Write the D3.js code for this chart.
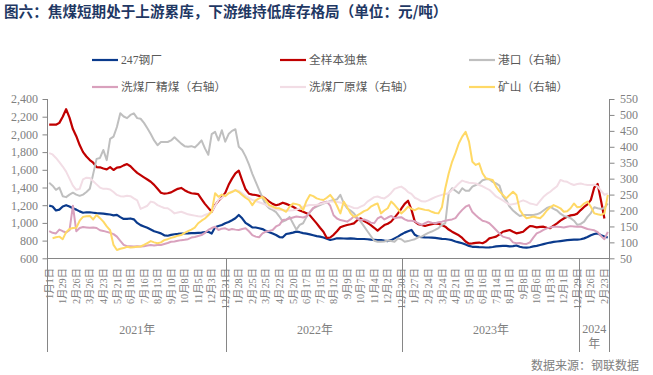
<!DOCTYPE html>
<html><head><meta charset="utf-8">
<script src="https://cdn.jsdelivr.net/npm/d3@7"></script>
<style>body{margin:0;background:#fff;} svg{display:block}</style>
</head><body>
<svg id="c" width="653" height="375"></svg>
<script>
// ---------- data ----------
const titleText = "图六：焦煤短期处于上游累库，下游维持低库存格局（单位：元/吨）";
const sourceText = "数据来源：钢联数据";
const startDate = "2021-01-01";
const nWeeks = 166;
const yearLabels = ["2021年", "2022年", "2023年", "2024年"];
const yearCounts = [53, 52, 52, 9];
const tickLabels = [
  "1月1日","1月29日","2月26日","3月26日","4月23日","5月21日","6月18日","7月16日","8月13日","9月10日","10月8日","11月5日","12月3日","12月31日",
  "1月28日","2月25日","3月25日","4月22日","5月20日","6月17日","7月15日","8月12日","9月9日","10月7日","11月4日","12月2日","12月30日",
  "1月27日","2月24日","3月24日","4月21日","5月19日","6月16日","7月14日","8月11日","9月8日","10月6日","11月3日","12月1日","12月29日",
  "1月26日","2月23日"
];
const leftTicks = [600, 800, 1000, 1200, 1400, 1600, 1800, 2000, 2200, 2400];
const rightTicks = [50, 100, 150, 200, 250, 300, 350, 400, 450, 500, 550];
const seriesNames = ["247钢厂", "全样本独焦", "港口（右轴）", "洗煤厂精煤（右轴）", "洗煤厂原煤（右轴）", "矿山（右轴）"];

const steel247 = [
1195,1185,1140,1150,1185,1200,1185,1165,1150,1130,
1115,1120,1120,1115,1110,1108,1105,1100,1095,1085,
1090,1065,1045,1045,1050,1040,1000,975,960,945,
925,905,895,882,860,855,865,872,875,880,
880,882,885,885,888,890,895,900,880,950,
965,976,995,1010,1030,1052,1090,1052,1000,976,
950,948,940,930,910,895,880,863,840,837,
875,882,890,901,895,885,878,870,860,850,
845,835,820,807,815,826,826,824,822,826,
822,818,818,818,815,810,808,805,807,800,
795,805,825,845,870,890,905,920,865,845,
838,836,835,833,830,825,820,818,812,805,
790,780,770,755,740,730,728,726,725,722,
724,728,735,738,740,740,735,738,745,730,
722,720,725,735,740,750,760,770,778,785,
790,795,800,805,808,810,812,815,825,840,
860,875,882,860,845,835];

const cokeAll = [
2110,2110,2110,2130,2200,2285,2190,2060,1980,1880,
1800,1750,1710,1680,1630,1628,1615,1605,1630,1598,
1625,1630,1650,1665,1640,1600,1565,1540,1515,1490,
1465,1430,1385,1340,1330,1335,1345,1365,1385,1395,
1370,1350,1335,1330,1325,1270,1215,1170,1125,1200,
1250,1290,1340,1430,1500,1560,1590,1480,1380,1330,
1320,1315,1305,1296,1270,1240,1215,1200,1210,1228,
1215,1200,1183,1160,1140,1127,1110,1085,1040,995,
945,901,830,835,865,905,950,965,976,985,
995,1030,1052,1020,1000,975,945,912,945,976,
990,1014,1060,1108,1160,1215,1250,1150,1014,985,
976,965,976,985,995,990,975,957,925,901,
880,860,830,790,765,768,775,778,770,790,
825,835,845,870,900,910,920,900,882,890,
900,935,965,960,950,955,957,945,940,970,
995,1025,1050,1070,1085,1090,1105,1145,1180,1210,
1260,1400,1440,1250,1050,null];

const port = [
287,278,265,272,245,242,250,256,250,246,
250,258,268,315,362,365,390,358,425,432,
462,505,495,490,500,505,490,488,475,458,
440,420,405,415,415,415,420,430,420,410,
402,400,402,398,408,420,395,375,440,447,
420,452,416,440,450,455,400,390,370,345,
315,290,265,240,218,207,202,195,181,165,
170,180,160,140,155,160,180,195,207,212,
217,222,225,230,233,235,249,223,207,200,
191,178,165,150,135,120,105,102,102,103,
106,104,102,112,110,102,104,107,110,116,
118,124,130,134,139,145,155,160,254,270,
262,254,270,262,262,275,280,285,295,298,
298,290,285,278,245,232,212,200,191,183,
186,186,186,186,188,192,200,208,212,205,
200,190,183,180,176,168,155,158,165,180,
192,210,207,205,208,222];

const washClean = [
135,130,128,140,135,131,138,215,135,145,
148,147,146,147,145,138,136,133,130,126,
118,105,92,88,88,87,88,87,88,90,
92,90,92,92,95,98,102,103,105,107,
108,110,115,117,120,123,130,139,145,149,
139,143,144,139,142,140,139,142,144,135,
123,118,116,128,134,136,139,150,155,170,
172,175,178,181,180,178,182,195,208,215,
222,225,228,215,185,175,170,168,165,172,
181,175,170,172,168,162,160,175,181,172,
178,183,176,178,179,172,168,168,166,160,
155,160,165,162,160,163,165,168,170,172,
176,190,202,212,217,195,185,176,168,165,
160,150,139,128,118,115,112,100,97,98,
96,95,100,115,128,133,139,144,147,149,
149,148,147,149,151,150,149,150,146,142,
140,138,132,120,110,133];

const washRaw = [
380,376,365,352,338,322,300,278,265,268,
298,303,302,292,282,272,268,268,266,258,
249,245,244,246,245,238,232,205,210,215,
228,225,217,212,208,207,200,191,194,196,
192,188,186,184,182,181,186,190,196,215,
233,240,248,254,260,264,262,254,246,240,
233,230,226,222,218,212,207,204,202,201,
200,200,201,203,206,212,215,217,217,218,
220,223,226,228,228,227,225,222,216,212,
208,207,212,217,228,235,242,244,240,238,
245,255,268,272,275,268,258,252,240,235,
229,228,232,237,242,246,249,252,254,265,
274,285,294,290,287,286,285,280,276,270,
265,255,244,238,232,225,218,220,222,228,
232,228,222,220,217,230,243,252,259,268,
276,296,292,290,284,280,283,285,282,280,
280,281,276,262,249,254];

const mine = [
null,113,116,118,110,132,142,145,146,168,
180,182,183,172,186,176,165,150,138,92,
76,80,82,86,84,85,86,87,92,98,
104,100,97,100,107,110,114,117,121,123,
130,135,140,146,160,168,175,185,196,254,
243,250,245,254,258,264,258,249,240,233,
217,232,238,243,232,217,212,208,207,202,
196,212,222,220,217,201,230,249,245,238,
235,233,240,249,235,215,191,228,210,191,
180,185,191,198,202,212,218,222,191,200,
207,228,218,205,191,200,212,205,201,207,
205,202,201,196,192,191,210,270,316,353,
380,411,432,447,416,353,343,348,317,301,
298,296,275,260,249,238,249,259,249,202,
186,176,178,181,178,176,186,200,210,217,
212,207,196,198,207,222,210,212,222,228,
212,191,188,186,191,249];

// ---------- styles ----------
const seriesColors = ["#0A3A8C", "#C00000", "#BFBFBF", "#D9A1BD", "#F2DDE5", "#FFD966"];
const seriesAxis = ["L", "L", "R", "R", "R", "R"];
const seriesData = [steel247, cokeAll, port, washClean, washRaw, mine];

const M = {left: 47.5, right: 609.5, top: 99, bottom: 258.3, ext: 352};
const axisColor = "#868686";
const textColor = "#808080";
const numFont = "'Liberation Serif','Noto Sans CJK SC',serif";
const cjkFont = "'Liberation Serif','Noto Sans CJK SC',serif";

const svg = d3.select("#c");

const parse = d3.timeParse("%Y-%m-%d");
const categories = d3.range(nWeeks).map(i => d3.timeDay.offset(parse(startDate), 7 * i));

const x = d3.scaleBand().domain(d3.range(nWeeks)).range([M.left, M.right]).padding(0);
const cx = i => x(i) + x.bandwidth() / 2;
const yL = d3.scaleLinear().domain([600, 2400]).range([M.bottom, M.top]);
const yR = d3.scaleLinear().domain([50, 550]).range([M.bottom, M.top]);

// title
svg.append("text").attr("x", 4).attr("y", 17)
  .attr("font-family", "'Noto Sans CJK SC',sans-serif").attr("font-weight", 700)
  .attr("font-size", 14.6).attr("fill", "#1F3864").text(titleText);

// left axis
const gL = svg.append("g").attr("transform", `translate(${M.left},0)`)
  .call(d3.axisLeft(yL).tickValues(leftTicks).tickSize(5).tickPadding(4.5).tickFormat(d3.format(",")));
gL.select(".domain").remove();
gL.selectAll(".tick line").attr("stroke", axisColor);
gL.selectAll(".tick text").attr("fill", textColor).attr("font-family", numFont).attr("font-size", 12);

// right axis
const gR = svg.append("g").attr("transform", `translate(${M.right},0)`)
  .call(d3.axisRight(yR).tickValues(rightTicks).tickSize(5).tickPadding(5.5));
gR.select(".domain").remove();
gR.selectAll(".tick line").attr("stroke", axisColor);
gR.selectAll(".tick text").attr("fill", textColor).attr("font-family", numFont).attr("font-size", 12);

// axis frame lines
const frame = svg.append("g").attr("stroke", axisColor).attr("stroke-width", 1).attr("shape-rendering", "crispEdges");
frame.append("line").attr("x1", M.left).attr("x2", M.left).attr("y1", M.top).attr("y2", M.ext);
frame.append("line").attr("x1", M.right).attr("x2", M.right).attr("y1", M.top).attr("y2", M.ext);
frame.append("line").attr("x1", M.left).attr("x2", M.right).attr("y1", M.bottom).attr("y2", M.bottom);

// year separators and year labels
let start = 0;
yearCounts.forEach((cnt, k) => {
  const x0 = x(start), x1 = (start + cnt < nWeeks) ? x(start + cnt) : M.right;
  if (start + cnt < nWeeks) {
    frame.append("line").attr("x1", x1).attr("x2", x1).attr("y1", M.bottom).attr("y2", M.ext);
  }
  const mid = (x0 + x1) / 2;
  const t = svg.append("text").attr("x", mid).attr("y", 334).attr("text-anchor", "middle")
    .attr("font-family", cjkFont).attr("font-size", 12).attr("fill", textColor).text(yearLabels[k]);
  if (t.node().getComputedTextLength() > (x1 - x0) - 2) {
    t.text(null);
    const lbl = yearLabels[k];
    t.append("tspan").attr("x", mid).attr("y", 333).text(lbl.slice(0, -1));
    t.append("tspan").attr("x", mid).attr("y", 348).text(lbl.slice(-1));
  }
  start += cnt;
});

// category labels (every 4th week)
tickLabels.forEach((lbl, k) => {
  const i = k * 4;
  svg.append("text")
    .attr("transform", `translate(${cx(i)},268) rotate(-90)`)
    .attr("text-anchor", "end").attr("dy", "0.35em")
    .attr("font-family", cjkFont).attr("font-size", 10.3).attr("fill", textColor)
    .text(lbl);
});

// series lines
seriesData.forEach((arr, s) => {
  const y = seriesAxis[s] === "L" ? yL : yR;
  const line = d3.line().defined(d => d != null).x((d, i) => cx(i)).y(d => y(d));
  svg.append("path").datum(arr).attr("d", line)
    .attr("fill", "none").attr("stroke", seriesColors[s])
    .attr("stroke-width", s < 2 ? 2.2 : 2).attr("stroke-linejoin", "round");
});

// legend
const legCols = [92, 280, 469], legRows = [60, 87];
seriesNames.forEach((name, s) => {
  const lx = legCols[s % 3], ly = legRows[Math.floor(s / 3)];
  svg.append("line").attr("x1", lx).attr("x2", lx + 26).attr("y1", ly).attr("y2", ly)
    .attr("stroke", seriesColors[s]).attr("stroke-width", 2.2);
  svg.append("text").attr("x", lx + 29).attr("y", ly).attr("dy", "0.36em")
    .attr("font-family", cjkFont).attr("font-size", 11.7).attr("fill", "#595959").text(name);
});

// source
svg.append("text").attr("x", 639).attr("y", 370).attr("text-anchor", "end")
  .attr("font-family", cjkFont).attr("font-size", 12).attr("fill", textColor).text(sourceText);
</script>
</body></html>
